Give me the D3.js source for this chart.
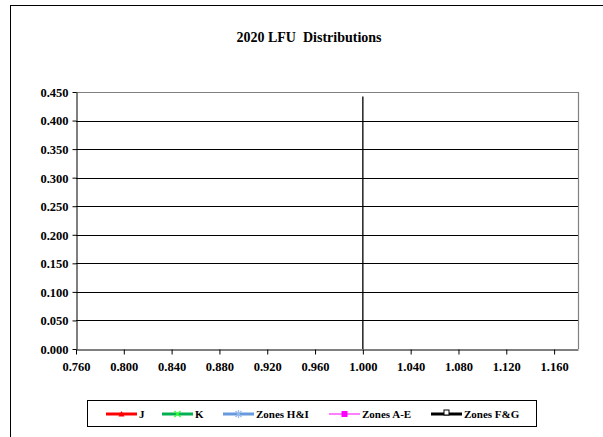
<!DOCTYPE html>
<html><head><meta charset="utf-8">
<script src="https://cdn.jsdelivr.net/npm/d3@7"></script>
<style>
html,body{margin:0;padding:0;background:#fff;}
svg text{font-family:'Liberation Serif','Times New Roman',Times,'DejaVu Serif',serif !important;font-weight:bold;fill:#000;}
</style></head>
<body>
<svg id="chart" width="603" height="437"></svg>
<script>
// ---- data ----
const title = "2020 LFU  Distributions";
const xTicks = [0.76, 0.80, 0.84, 0.88, 0.92, 0.96, 1.00, 1.04, 1.08, 1.12, 1.16];
const yTicks = [0, 0.05, 0.10, 0.15, 0.20, 0.25, 0.30, 0.35, 0.40, 0.45];
const xDomain = [0.76, 1.18];
const yDomain = [0, 0.45];
const seriesNames = ["J", "K", "Zones H&I", "Zones A-E", "Zones F&G"];
const seriesJ = [];
const seriesK = [];
const seriesHI = [];
const seriesAE = [];
const seriesFG = [];
const refLineX = [1.0, 1.0];
const refLineY = [0, 0.442];

// ---- styles ----
const FONT = "'Liberation Serif','Times New Roman',Times,'DejaVu Serif',serif";
const styles = [
  {color:"#ff0000", width:3, marker:"triangle", mColor:"#ff0000"},
  {color:"#00b050", width:3, marker:"x", mColor:"#33ff33"},
  {color:"#6699dd", width:3, marker:"star", mColor:"#99bbee"},
  {color:"#ff00ff", width:1, marker:"square", mColor:"#ff00ff"},
  {color:"#000000", width:3, marker:"hsquare", mColor:"#000000"}
];
const seriesData = [seriesJ, seriesK, seriesHI, seriesAE, seriesFG];

const svg = d3.select("#chart");
const m = {left:76, right:578, top:92, bottom:349};
const x = d3.scaleLinear().domain(xDomain).range([m.left, m.right]);
const y = d3.scaleLinear().domain(yDomain).range([m.bottom, m.top]);

// outer border
svg.append("rect").attr("x",10.5).attr("y",5.5).attr("width",620).attr("height",460)
  .attr("fill","none").attr("stroke","#000").attr("stroke-width",1);

// title
svg.append("text").attr("x",309).attr("y",42).attr("text-anchor","middle")
  .attr("font-family",FONT).attr("font-weight","bold")
  .attr("font-size",14).attr("xml:space","preserve").style("white-space","pre").text(title);

// gridlines
svg.append("g").selectAll("line").data(yTicks.filter(d=>d>0 && d<0.45)).join("line")
  .attr("x1",m.left).attr("x2",m.right)
  .attr("y1",d=>Math.round(y(d))+0.5).attr("y2",d=>Math.round(y(d))+0.5)
  .attr("stroke","#000").attr("stroke-width",1);

// plot border top/right (gray)
svg.append("path")
  .attr("d",`M${m.left},${m.top+0.5}H${m.right+0.5}V${m.bottom}`)
  .attr("fill","none").attr("stroke","#808080").attr("stroke-width",1.2);

// axes
const yAxis = d3.axisLeft(y).tickValues(yTicks).tickFormat(d3.format(".3f")).tickSize(4).tickSizeOuter(0);
const gy = svg.append("g").attr("transform",`translate(${m.left+0.5},0)`).call(yAxis)
  .attr("font-family",FONT).attr("font-weight","bold");
gy.selectAll("text").attr("font-size",12.5).attr("x",-8).attr("dy","0.35em");
gy.selectAll("line,path").attr("stroke","#000");

const xAxis = d3.axisBottom(x).tickValues(xTicks).tickFormat(d3.format(".3f")).tickSize(5).tickSizeOuter(0);
const gx = svg.append("g").attr("transform",`translate(0,${m.bottom+0.5})`).call(xAxis)
  .attr("font-family",FONT).attr("font-weight","bold");
gx.selectAll("text").attr("font-size",12.5).attr("y",13).attr("dy","0.71em");
gx.selectAll("line,path").attr("stroke","#000");

// series
const line = d3.line().x(d=>x(d[0])).y(d=>y(d[1]));
seriesData.forEach((s,i)=>{
  svg.append("path").datum(s).attr("d",line).attr("fill","none")
    .attr("stroke",styles[i].color).attr("stroke-width",styles[i].width);
});

// reference line at 1.000
svg.append("path").datum(d3.zip(refLineX, refLineY))
  .attr("d",line).attr("fill","none").attr("stroke","#000").attr("stroke-width",1.3);

// legend
const lg = svg.append("g").attr("font-family",FONT).attr("font-weight","bold");
lg.append("rect").attr("x",87.5).attr("y",400.5).attr("width",449).attr("height",26)
  .attr("fill","#fff").attr("stroke","#000").attr("stroke-width",1);
const legX = [106, 162, 223, 329, 431];
seriesNames.forEach((n,i)=>{
  const st = styles[i];
  const g = lg.append("g").attr("transform",`translate(${legX[i]},414)`);
  g.append("line").attr("x1",0).attr("x2",31).attr("y1",0).attr("y2",0)
    .attr("stroke",st.color).attr("stroke-width",st.width);
  const cx = 15.5;
  if (st.marker==="triangle") {
    g.append("path").attr("d",`M${cx-3},2.5L${cx},-3L${cx+3},2.5Z`).attr("fill",st.mColor);
  } else if (st.marker==="x") {
    g.append("path").attr("d",`M${cx-3},-3L${cx+3},3M${cx-3},3L${cx+3},-3`).attr("stroke",st.mColor).attr("stroke-width",1.3);
  } else if (st.marker==="star") {
    g.append("path").attr("d",`M${cx-3},-3L${cx+3},3M${cx-3},3L${cx+3},-3M${cx},-4V4`).attr("stroke",st.mColor).attr("stroke-width",1.2);
  } else if (st.marker==="square") {
    g.append("rect").attr("x",cx-3).attr("y",-3).attr("width",6).attr("height",6).attr("fill",st.mColor);
  } else if (st.marker==="hsquare") {
    g.append("rect").attr("x",cx-2.5).attr("y",-4).attr("width",5).attr("height",5).attr("fill","#fff").attr("stroke","#000").attr("stroke-width",1);
  }
  g.append("text").attr("x",33).attr("y",4).attr("font-size",11).text(n);
});
</script>
</body></html>
